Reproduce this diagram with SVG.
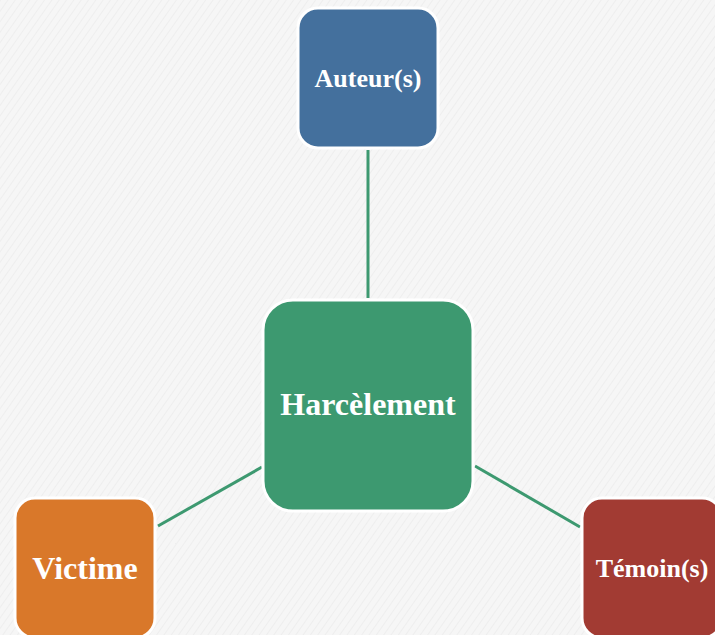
<svg xmlns="http://www.w3.org/2000/svg" width="715" height="635" viewBox="0 0 715 635">
<defs>
<pattern id="tex" width="6" height="6" patternUnits="userSpaceOnUse" patternTransform="rotate(35)">
<rect width="6" height="6" fill="#f6f6f6"/>
<line x1="0" y1="0" x2="0" y2="6" stroke="#ececec" stroke-width="1.5"/>
</pattern>
</defs>
<style>
.box{stroke:#ffffff;stroke-width:3}
.lbl{font-family:"Liberation Serif","Times New Roman",serif;font-weight:bold;fill:#ffffff;text-anchor:middle;dominant-baseline:central}
.conn{stroke:#3d9970;stroke-width:3;fill:none}
</style>
<rect width="715" height="635" fill="url(#tex)"/>
<g id="connectors">
<line class="conn" x1="368" y1="150" x2="368" y2="298"/>
<line class="conn" x1="158" y1="526" x2="262" y2="467"/>
<line class="conn" x1="475" y1="466" x2="580" y2="527"/>
</g>
<g id="node-auteur">
<rect class="box" x="298" y="8" width="140" height="140" rx="20" fill="#44709d"/>
<text class="lbl" x="368" y="78" font-size="26">Auteur(s)</text>
</g>
<g id="node-harcelement">
<rect class="box" x="263" y="300" width="210" height="211" rx="30" fill="#3d9970"/>
<text class="lbl" x="368" y="404" font-size="32">Harcèlement</text>
</g>
<g id="node-victime">
<rect class="box" x="15" y="498" width="140" height="140" rx="20" fill="#d9782a"/>
<text class="lbl" x="85" y="568" font-size="32">Victime</text>
</g>
<g id="node-temoin">
<rect class="box" x="582" y="498" width="140" height="140" rx="20" fill="#a23b33"/>
<text class="lbl" x="652" y="568" font-size="26">Témoin(s)</text>
</g>
</svg>
